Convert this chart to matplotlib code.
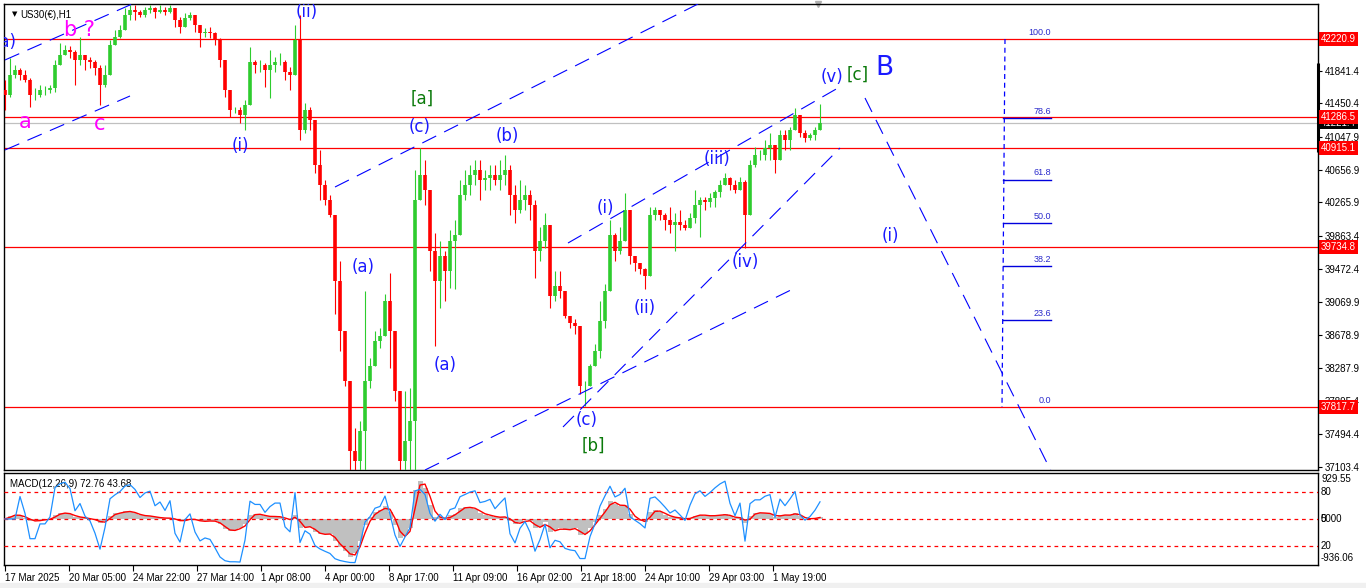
import numpy as np
import pandas as pd
import matplotlib
matplotlib.use("Agg")
import matplotlib.pyplot as plt
import matplotlib.transforms as mtransforms
from matplotlib.patches import Rectangle

plt.rcParams['font.family'] = ['Liberation Sans', 'DejaVu Sans']

# ---------------- data (US30 H1, one entry ~ every 5 hours) ----------------
first_open = 41610
close = [41550,41790,41850,41790,41730,41550,41550,41610,41610,41634,
         41910,42030,42090,42066,41970,42030,41970,41946,41874,41670,
         41790,42150,42246,42330,42510,42570,42546,42510,42570,42594,
         42546,42570,42546,42594,42450,42366,42474,42510,42390,42294,
         42306,42294,42210,41970,41610,41370,41370,41310,41430,41946,
         41910,41910,41850,41910,41946,41946,41826,41790,42210,41130,
         41370,41250,40710,40470,40290,40110,39330,38730,38130,37290,
         37170,37530,38130,38310,38610,38670,39090,38730,38010,37170,
         37410,37650,40290,40590,40410,39690,39330,39630,39450,39810,
         39870,40350,40470,40590,40650,40530,40554,40590,40530,40590,
         40650,40350,40170,40290,40350,40230,39690,39810,39990,39150,
         39270,39210,38910,38826,38790,38070,38070,38310,38490,38850,
         39210,39870,39690,39810,40170,39630,39546,39474,39390,40110,
         40170,40110,40050,39990,40026,39990,39954,40074,40230,40290,
         40266,40314,40386,40470,40554,40470,40410,40506,40110,40710,
         40830,40830,40914,40950,40770,41070,41010,41130,41310,41094,
         41034,41070,41130,41221]
high = [41730,41994,41910,41874,41850,41754,41634,41670,41658,41670,
        41970,42174,42150,42138,42090,42246,42030,42006,41970,41910,
        41910,42210,42330,42390,42594,42630,42630,42570,42606,42630,
        42606,42630,42606,42630,42594,42486,42534,42546,42510,42390,
        42354,42366,42306,42234,41970,41610,41406,41406,41490,42126,
        41970,41970,41934,42090,42006,42054,41970,41886,42390,42510,
        41454,41406,41250,40890,40530,40350,40110,39570,38730,38130,
        37566,37650,39210,38406,38730,38766,39174,39426,38730,38010,
        38010,38046,40650,40914,40770,40410,39894,39810,39690,39930,
        40050,40530,40650,40710,40770,40770,40650,40710,40710,40770,
        40830,40710,40470,40530,40470,40410,40290,39966,40134,39990,
        39450,39450,39210,38910,38874,38790,38130,38334,38574,39090,
        39294,40050,39894,39966,40374,40170,39630,39546,39486,40206,
        40206,40170,40134,40206,40134,40170,40050,40134,40410,40326,
        40326,40374,40410,40530,40614,40566,40530,40566,40530,40770,
        40926,40890,41010,41094,40950,41130,41130,41166,41394,41310,
        41130,41094,41166,41442]
low = [41370,41526,41754,41730,41706,41406,41490,41526,41550,41574,
       41586,41946,42030,41994,41670,41910,41850,41874,41790,41430,
       41646,41790,42150,42234,42330,42450,42450,42486,42486,42534,
       42474,42534,42510,42534,42366,42294,42366,42450,42306,42126,
       42246,42234,42150,41886,41526,41286,41334,41214,41130,41430,
       41814,41826,41646,41514,41826,41910,41730,41610,41790,41010,
       41094,41130,40614,40290,40230,40086,38934,38490,38070,36930,
       36930,36810,37050,38046,38310,38526,38670,38286,37890,36810,
       36930,37050,37050,40290,40230,39450,38550,39006,39090,39246,
       39234,39870,40290,40350,40470,40290,40410,40410,40470,40410,
       40470,40110,40014,40134,40170,40050,39366,39570,39726,39006,
       39090,39126,38886,38766,38694,37974,37830,38070,38310,38406,
       38766,39210,39570,39654,39810,39534,39450,39414,39234,39390,
       40050,40050,39930,39894,39690,39930,39930,39954,40014,39846,
       40170,40206,40206,40326,40470,40410,40374,40410,39726,40110,
       40686,40770,40770,40770,40614,40770,40890,40890,41130,41046,
       40986,41010,41010,41130]

time_labels = ["17 Mar 2025", "20 Mar 05:00", "24 Mar 22:00", "27 Mar 14:00",
               "1 Apr 08:00", "4 Apr 00:00", "8 Apr 17:00", "11 Apr 09:00",
               "16 Apr 02:00", "21 Apr 18:00", "24 Apr 10:00", "29 Apr 03:00",
               "1 May 19:00"]
price_ticks = [41841.4, 41450.4, 41047.9, 40656.9, 40265.9, 39863.4, 39472.4,
               39069.9, 38678.9, 38287.9, 37895.4, 37494.4, 37103.4]
red_levels = [42220.9, 41286.5, 40915.1, 39734.8, 37817.7]
last_price = 41221.4
fib_ratios = [0.0, 23.6, 38.2, 50.0, 61.8, 78.6, 100.0]
fib_low, fib_high = 37817.7, 42220.9
macd_max, macd_min = 929.55, -936.06
osc_levels = [80, 50, 20]

# ---------------- figure layout ----------------
W, H = 1366, 588
fig = plt.figure(figsize=(W / 100, H / 100), dpi=100)
fig.patch.set_facecolor('white')
fig.patches.append(Rectangle((0, 0), 1, 5 / H, transform=fig.transFigure,
                             color='#f0f0f0', zorder=0))
L, R = 4, 1318
ax = fig.add_axes([L / W, 1 - 470 / H, (R - L) / W, (470 - 4) / H])
ax2 = fig.add_axes([L / W, 1 - 565 / H, (R - L) / W, (565 - 473) / H])
XL = (-0.2, 262.6)
for a in (ax, ax2):
    a.set_xlim(*XL)
    for s in a.spines.values():
        s.set_color('black')
        s.set_linewidth(1)
ax.set_ylim(37064.1, 42639.7)

close = np.array(close, float)
high = np.array(high, float)
low = np.array(low, float)
n = len(close)
idx = np.arange(n)
op = np.r_[first_open, close[:-1]]
hi = np.maximum(high, np.maximum(op, close))
lo = np.minimum(low, np.minimum(op, close))
up = close >= op
cols = np.where(up, '#2ecc2e', '#ff0000')

# horizontal levels
for lv in red_levels:
    ax.axhline(lv, color='#ff0000', lw=0.9, zorder=1)
ax.axhline(last_price, color='#c0c0c0', lw=0.9, zorder=1)

# candles
ax.vlines(idx, lo, hi, colors=cols, lw=0.8, zorder=3)
ax.vlines(idx, np.minimum(op, close), np.maximum(op, close), colors=cols, lw=2.6, zorder=3)

# trend lines
blue = '#0000ff'
tl = [((0, 41970), (30, 42760)),
      ((0, 40893), (25, 41539)),
      ((66, 40450), (139, 42652)),
      ((84, 37064), (158, 39242)),
      ((112.6, 39780), (166.6, 41635)),
      ((111.6, 37579), (167, 40917)),
      ((172, 41515), (209.4, 37028))]
for (x0, y0), (x1, y1) in tl:
    ax.plot([x0, x1], [y0, y1], color=blue, lw=0.8, ls=(0, (14, 8)), zorder=4)

# fibonacci
fib_prices = [fib_low + r / 100 * (fib_high - fib_low) for r in fib_ratios]
ax.plot([200, 199.4], [fib_high, fib_low], color=blue, lw=0.9, ls=(0, (4, 3)), zorder=4)
fibc = '#2a2acc'
for r, p in zip(fib_ratios, fib_prices):
    if 0 < r < 100:
        ax.plot([199.6, 209.2], [p, p], color='#0000dd', lw=1.0, zorder=4)
    ax.text(209.2, p + 25, f"{r:.1f}", color=fibc, fontsize=6.5, ha='right',
            va='bottom', zorder=5)

# wave labels
def lab(u, p, s, c, size=12, **kw):
    ax.text(u, p, s, color=c, fontsize=size, ha='center', va='center',
            family='DejaVu Sans', zorder=6, **kw)

wb = '#1a1aff'
gr = '#0b7a0b'
mg = '#ff00ff'
lab(0, 42185, "(a)", wb, clip_on=True)
lab(4, 41228, "a", mg, 15)
lab(15, 42329, "b ?", mg, 15)
lab(19, 41204, "c", mg, 15)
lab(60.4, 42544, "(ii)", wb, clip_on=True)
lab(47, 40941, "(i)", wb)
lab(83.4, 41503, "[a]", gr)
lab(83, 41168, "(c)", wb)
lab(100.4, 41061, "(b)", wb)
lab(71.6, 39493, "(a)", wb)
lab(88, 38321, "(a)", wb)
lab(116.4, 37663, "(c)", wb)
lab(117.6, 37352, "[b]", gr)
lab(120, 40199, "(i)", wb)
lab(128, 39003, "(ii)", wb)
lab(142.4, 40786, "(iii)", wb)
lab(148, 39553, "(iv)", wb)
lab(165.4, 41767, "(v)", wb)
lab(170.6, 41791, "[c]", gr)
lab(175.8, 41874, "B", wb, 19)
lab(177, 39864, "(i)", wb)

# title
ax.text(0.006, 0.985, "\u25BC", transform=ax.transAxes, fontsize=5,
        va='top', ha='left', family='DejaVu Sans')
ax.text(0.0125, 0.988, "US30(\u20ac),H1", transform=ax.transAxes,
        fontsize=7, va='top', ha='left')
# chart shift marker
ax.plot([162.6], [42639.7], marker='v', color='#b0b0b0', ms=5, clip_on=False, zorder=2)

# right price axis
ax.yaxis.tick_right()
ax.set_yticks(price_ticks)
ax.set_yticklabels([f"{v:.1f}" for v in price_ticks])
ax.tick_params(axis='y', direction='out', length=3, width=0.8, pad=2,
               labelsize=7, colors='black')
ax.tick_params(axis='x', bottom=False, labelbottom=False)
trans = mtransforms.blended_transform_factory(ax.transAxes, ax.transData)
ax.text(1.0 + 3 / 1314, last_price, f"{last_price:.1f}", transform=trans,
        fontsize=7, color='white', ha='left', va='center', zorder=10,
        bbox=dict(boxstyle='square,pad=0.18', fc='black', ec='none'), clip_on=False)
for lv in red_levels:
    ax.text(1.0 + 3 / 1314, lv, f"{lv:.1f}", transform=trans, fontsize=7,
            color='white', ha='left', va='center', zorder=11,
            bbox=dict(boxstyle='square,pad=0.18', fc='#ff0000', ec='none'), clip_on=False)
ax.plot([1.0, 1.0], [41933, 40868], transform=trans, color='black', lw=2.2,
        clip_on=False, zorder=9, solid_capstyle='butt')

# ---------------- MACD + oscillator panel ----------------
s = pd.Series(close)
ema_f = s.ewm(span=12 / 5, adjust=False).mean()
ema_s = s.ewm(span=26 / 5, adjust=False).mean()
macd = (ema_f - ema_s).values
signal = pd.Series(macd).rolling(2, min_periods=1).mean().values
d = np.diff(close, prepend=close[0])
g = pd.Series(np.clip(d, 0, None)).ewm(alpha=1 / 4, adjust=False).mean()
lsr = pd.Series(np.clip(-d, 0, None)).ewm(alpha=1 / 4, adjust=False).mean()
rsi = (100 - 100 / (1 + g / lsr.replace(0, np.nan))).fillna(50).values

ax2.set_ylim(macd_min, macd_max)
ax2.bar(idx, macd, width=1.0, color='#c0c0c0', zorder=2)
ax2.plot(idx, signal, color='#ff0000', lw=1.0, zorder=4)
ax3 = ax2.twinx()
ax3.set_xlim(*XL)
ax3.set_ylim(-1.1, 101.1)
ax3.plot(idx, rsi, color='#1e90ff', lw=0.9, zorder=3)
for lv in osc_levels:
    ax3.axhline(lv, color='#ff0000', lw=0.9, ls=(0, (3, 3)), zorder=1)
ax3.set_yticks([])
ax3.tick_params(right=False, labelright=False)
for sp in ax3.spines.values():
    sp.set_visible(False)
ax2.set_yticks([])
ax2.text(0.0045, 0.93, "MACD(12,26,9) 72.76 43.68", transform=ax2.transAxes,
         fontsize=7, ha='left', va='top')
t3 = mtransforms.blended_transform_factory(ax3.transAxes, ax3.transData)
for txt, yv in [("929.55", 94.4), ("80", 80), ("5000", 50), ("20", 20), ("-936.06", 6.7)]:
    ax3.text(1.0 + 3 / 1314, yv, txt, transform=t3, fontsize=7, ha='left',
             va='center', clip_on=False)
ax3.text(1.0 + 3 / 1314, 50, "0", transform=t3, fontsize=7, ha='left',
         va='center', clip_on=False)

ticks_u = np.arange(len(time_labels)) * 12.8
ax2.set_xticks(ticks_u)
ax2.set_xticklabels(time_labels)
ax2.tick_params(axis='x', direction='out', length=4, width=0.8, pad=2,
                labelsize=7)
for t in ax2.get_xticklabels():
    t.set_horizontalalignment('left')

fig.savefig("out.png", dpi=100)
